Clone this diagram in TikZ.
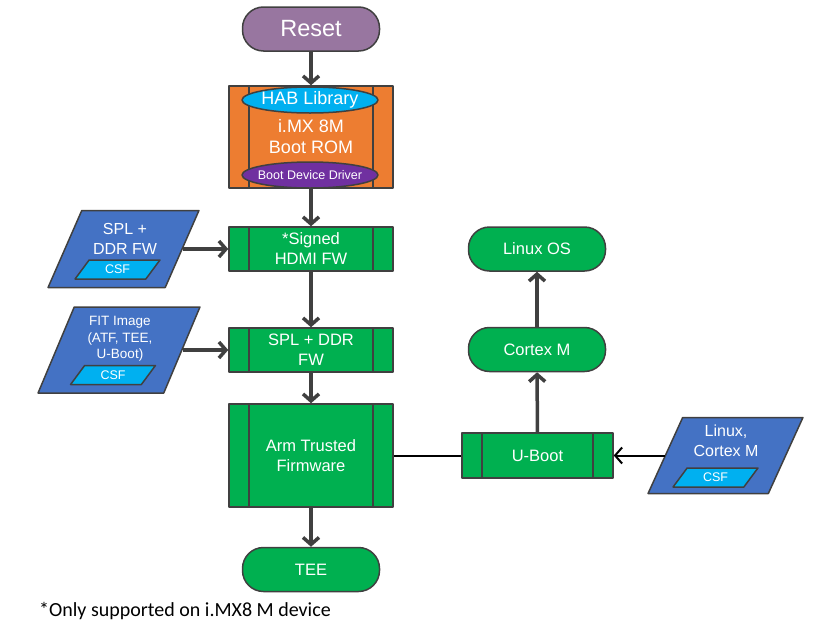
\documentclass[tikz,border=0pt]{standalone}
\usepackage{fontspec}
\setmainfont{Liberation Sans}
\newfontfamily\notefont{Carlito}
\usetikzlibrary{shapes.geometric,arrows.meta}
\definecolor{resetpurple}{RGB}{152,118,160}
\definecolor{romorange}{RGB}{237,125,49}
\definecolor{habcyan}{RGB}{0,176,240}
\definecolor{drvpurple}{RGB}{112,48,160}
\definecolor{fwgreen}{RGB}{0,176,80}
\definecolor{imgblue}{RGB}{68,114,196}
\definecolor{edgegray}{RGB}{64,64,64}
\tikzset{
	pill/.style={rectangle, rounded corners=21pt, draw=edgegray, line width=1.5pt, fill=fwgreen, text=white,
		minimum width=137pt, minimum height=44pt, font=\fontsize{16.5}{19}\selectfont},
	procbox/.style={rectangle, draw=edgegray, line width=1.5pt, fill=fwgreen, text=white, align=center,
		minimum width=164pt, font=\fontsize{16.5}{20}\selectfont,
		path picture={\draw[edgegray, line width=1.5pt]
			([xshift=20pt]path picture bounding box.north west) -- ([xshift=20pt]path picture bounding box.south west)
			([xshift=-20pt]path picture bounding box.north east) -- ([xshift=-20pt]path picture bounding box.south east);}},
	oval/.style={ellipse, draw=edgegray, line width=1.5pt, text=white, inner sep=0pt,
		minimum width=136pt, minimum height=26pt},
	datain/.style={trapezium, trapezium left angle=68, trapezium right angle=112, trapezium stretches=true,
		draw=edgegray, line width=1.5pt, fill=imgblue},
	imgtext/.style={text=white, align=center, inner sep=0pt, font=\fontsize{16}{19.5}\selectfont},
	csf/.style={trapezium, trapezium left angle=55, trapezium right angle=125, trapezium stretches=true,
		draw=edgegray, line width=1.5pt, fill=habcyan, text=white, inner sep=0pt,
		minimum width=85pt, minimum height=19pt, font=\fontsize{12.5}{13}\selectfont}
}
\begin{document}
\begin{tikzpicture}[x=1pt, y=-1pt, line join=round, >={Straight Barb[length=7pt,width=16pt]}]
	\useasboundingbox (0,0) rectangle (832,640);
	% boot chain
	\node[pill, fill=resetpurple, font=\fontsize{23.5}{26}\selectfont] (reset) at (311,29) {Reset};
	\node[procbox, fill=romorange, minimum height=102pt, font=\fontsize{18}{21}\selectfont] (bootrom) at (311,137) {i.MX 8M\\Boot ROM};
	\node[oval, fill=habcyan, inner xsep=-3pt, font=\fontsize{18}{20}\selectfont] (hab) at (310,100) {HAB Library};
	\node[oval, fill=drvpurple, inner xsep=-9pt, font=\fontsize{12.5}{14}\selectfont] (bdd) at (310,175) {Boot Device Driver};
	\node[procbox, minimum height=44pt] (hdmi) at (311,249) {*Signed\\HDMI FW};
	\node[procbox, minimum height=44pt] (spl) at (311,350) {SPL + DDR\\FW};
	\node[procbox, minimum height=103pt] (atf) at (311,455.5) {Arm Trusted\\Firmware};
	\node[pill] (tee) at (311,569.5) {TEE};
	\node[procbox, minimum width=151pt, minimum height=45pt] (uboot) at (537.5,455.5) {U-Boot};
	\node[pill] (cortex) at (537,349.5) {Cortex M};
	\node[pill] (linuxos) at (537,249) {Linux OS};
	% signed images
	\node[datain, minimum width=151pt, minimum height=77pt] (splimg) at (123.5,249) {};
	\node[imgtext] (spltext) at (125,239) {SPL +\\DDR FW};
	\node[csf] (splcsf) at (117.5,269.5) {CSF};
	\node[datain, minimum width=162pt, minimum height=86pt] (fitimg) at (119,350) {};
	\node[imgtext, font=\fontsize{13.5}{16.5}\selectfont] (fittext) at (120,339) {FIT Image\\(ATF, TEE,\\U-Boot)};
	\node[csf] (fitcsf) at (113,375) {CSF};
	\node[datain, minimum width=155pt, minimum height=76pt] (linuximg) at (725.5,455.5) {};
	\node[imgtext] (linuxtext) at (726,441) {Linux,\\Cortex M};
	\node[csf] (linuxcsf) at (715.5,477.5) {CSF};
	% connectors
	\foreach \x/\y in {reset/bootrom, bootrom/hdmi, splimg/hdmi, hdmi/spl, fitimg/spl, spl/atf, atf/tee, uboot/cortex, cortex/linuxos}
	\draw[->, edgegray, line width=3.5pt] (\x)--(\y);
	\draw[black, line width=2pt] (atf)--(uboot);
	\draw[->, black, line width=2pt] (linuximg)--(uboot);
	\node[anchor=base west, inner sep=0pt, font=\notefont\fontsize{20}{24}\selectfont] (note) at (39,616) {*Only supported on i.MX8 M device};
\end{tikzpicture}
\end{document}
